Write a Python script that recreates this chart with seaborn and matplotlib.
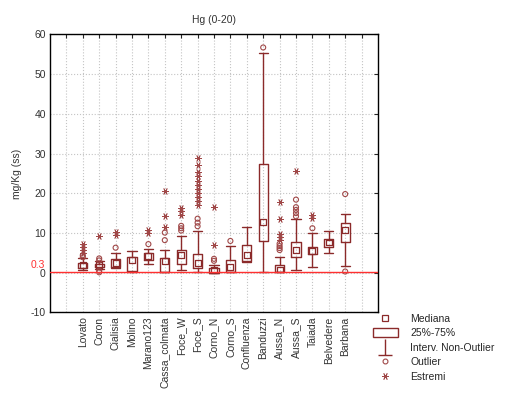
import numpy as np
import pandas as pd
import matplotlib
matplotlib.use("Agg")
import matplotlib.pyplot as plt
import seaborn as sns
from matplotlib.patches import Rectangle
from matplotlib.lines import Line2D
from matplotlib.path import Path

# stations and summary values (mg/Kg)
stations = ["Lovato", "Coron", "Cialisia", "Molino", "Marano123", "Cassa_colmata",
            "Foce_W", "Foce_S", "Corno_N", "Corno_S", "Confluenza", "Banduzzi",
            "Aussa_N", "Aussa_S", "Taiada", "Belvedere", "Barbana"]
median = [1.9, 1.9, 2.5, 3.2, 4.2, 3.0, 4.4, 2.5, 0.65, 1.5, 4.4, 12.8, 0.8, 5.7, 5.4, 7.6, 10.7]
q1 = [1.3, 1.5, 1.5, 0.5, 3.2, 0.2, 2.3, 1.1, 0.0, 0.2, 3.0, 8.0, 0.3, 4.0, 4.7, 6.5, 7.8]
q3 = [2.5, 2.3, 3.4, 3.9, 4.9, 3.6, 5.7, 4.7, 1.2, 3.2, 7.1, 27.4, 1.9, 7.8, 6.5, 8.6, 12.6]
wlo = [0.8, 1.0, 1.1, 0.3, 2.1, 0.2, 0.6, 0.2, 0.0, 0.2, 2.6, 0.1, 0.2, 0.6, 1.5, 5.0, 1.7]
whi = [3.6, 3.0, 5.0, 5.4, 5.9, 5.7, 9.2, 10.6, 2.0, 6.8, 11.4, 55.2, 3.9, 13.4, 9.9, 10.5, 14.9]
outliers = {
    "Lovato": [3.9, 4.4],
    "Coron": [3.1, 3.6, 0.5, 0.1],
    "Cialisia": [6.3],
    "Marano123": [7.2],
    "Cassa_colmata": [8.2, 10.1],
    "Foce_W": [10.6, 11.2, 11.8],
    "Foce_S": [11.7, 12.6, 13.6],
    "Corno_N": [3.0, 3.5],
    "Corno_S": [8.0],
    "Banduzzi": [56.7],
    "Aussa_N": [5.7, 6.2, 6.7, 7.3],
    "Aussa_S": [14.2, 15.0, 15.8, 16.5, 18.4],
    "Taiada": [11.2],
    "Barbana": [19.8, 0.3],
}
extremes = {
    "Lovato": [5.0, 5.7, 6.4, 7.2],
    "Coron": [9.2],
    "Cialisia": [9.4, 10.2],
    "Marano123": [10.0, 10.8],
    "Cassa_colmata": [11.6, 14.4, 20.6],
    "Foce_W": [14.6, 15.6, 16.4],
    "Foce_S": [17.0, 18.0, 19.0, 20.0, 21.2, 22.2, 23.2, 24.4, 25.4, 27.0, 29.0],
    "Corno_N": [7.0, 16.6],
    "Aussa_N": [8.3, 9.0, 9.8, 13.5, 17.8],
    "Aussa_S": [25.7],
    "Taiada": [13.8, 14.6],
}
ref_value = 0.3

col = "#8b2a2a"
col_light = "#a04848"
sns.set_style("white")
plt.rcParams["font.family"] = ["Liberation Sans", "DejaVu Sans"]

fig = plt.figure(figsize=(5.05, 3.95), dpi=100)
ax = fig.add_axes([0.099, 0.209, 0.6495, 0.704])

pos = np.arange(len(stations))
stats = []
for i, s in enumerate(stations):
    stats.append(dict(med=median[i], q1=q1[i], q3=q3[i], whislo=wlo[i], whishi=whi[i],
                      fliers=[], label=s))
ax.bxp(stats, positions=pos, widths=0.55, showfliers=False, patch_artist=False,
       boxprops=dict(color=col, lw=1.0), whiskerprops=dict(color=col, lw=1.0),
       capprops=dict(color=col, lw=1.0), medianprops=dict(visible=False),
       capwidths=0.55, manage_ticks=False, zorder=3)

med_df = pd.DataFrame({"x": pos, "y": median})
sns.scatterplot(data=med_df, x="x", y="y", marker="s", s=18, facecolor="none",
                edgecolor=col, linewidth=0.9, ax=ax, zorder=4)

out_rows = [(stations.index(k), v) for k, vals in outliers.items() for v in vals]
out_df = pd.DataFrame(out_rows, columns=["x", "y"])
sns.scatterplot(data=out_df, x="x", y="y", marker="o", s=13, facecolor="none",
                edgecolor=col_light, linewidth=0.8, ax=ax, zorder=4)

ext_rows = [(stations.index(k), v) for k, vals in extremes.items() for v in vals]
ext_df = pd.DataFrame(ext_rows, columns=["x", "y"])
sns.scatterplot(data=ext_df, x="x", y="y", marker=(6, 2, 90), s=20, color=col_light,
                linewidth=0.6, ax=ax, zorder=4)

ax.axhline(ref_value, color="#ff3030", lw=1.0, zorder=5)

ax.set_xlim(-2, 18)
ax.set_ylim(-10, 60)
ax.set_xticks(np.arange(-1, 18), minor=False)
ax.set_xticklabels([""] + stations + [""], rotation=90, fontsize=7.5, color="#333333")
ax.set_yticks(np.arange(-10, 61, 10))
ax.set_yticklabels([str(v) for v in range(-10, 61, 10)], fontsize=7.5, color="#333333")
ax.grid(True, color="#c4c4c4", ls=":", lw=0.8)
ax.tick_params(direction="in", length=3, width=0.8, top=True, right=True, pad=3)
for sp in ax.spines.values():
    sp.set_visible(True)
    sp.set_color("black")
    sp.set_linewidth(1.0)
ax.set_xlabel("")
ax.set_ylabel("mg/Kg (ss)", fontsize=7.5, labelpad=6, color="#333333")
ax.set_title("Hg (0-20)", fontsize=7.5, pad=8, color="#333333")
ax.text(-2.3, ref_value + 1.7, "0.3", color="#ff3030", fontsize=7.5,
        ha="right", va="center")

# legend
tee = Path([(0, 1), (0, -1), (-0.8, -1), (0.8, -1)],
           [Path.MOVETO, Path.LINETO, Path.MOVETO, Path.LINETO])
handles = [
    Line2D([], [], ls="none", marker="s", ms=4, mfc="none", mec=col, mew=0.9),
    Rectangle((0, 0), 1, 1, facecolor="none", edgecolor=col, lw=1.0),
    Line2D([], [], ls="none", marker=tee, ms=12, mfc="none", mec=col, mew=1.0),
    Line2D([], [], ls="none", marker="o", ms=3.5, mfc="none", mec=col_light, mew=0.8),
    Line2D([], [], ls="none", marker=(6, 2, 90), ms=5, color=col_light, mew=0.6),
]
labels = ["Mediana", "25%-75%", "Interv. Non-Outlier", "Outlier", "Estremi"]
fig.legend(handles, labels, loc="upper left", bbox_to_anchor=(0.724, 0.225),
           frameon=False, fontsize=7.5, handlelength=2.4, handletextpad=1.2,
           handleheight=1.0, labelspacing=0.42, borderpad=0.2)

fig.savefig("out.png", dpi=100)
